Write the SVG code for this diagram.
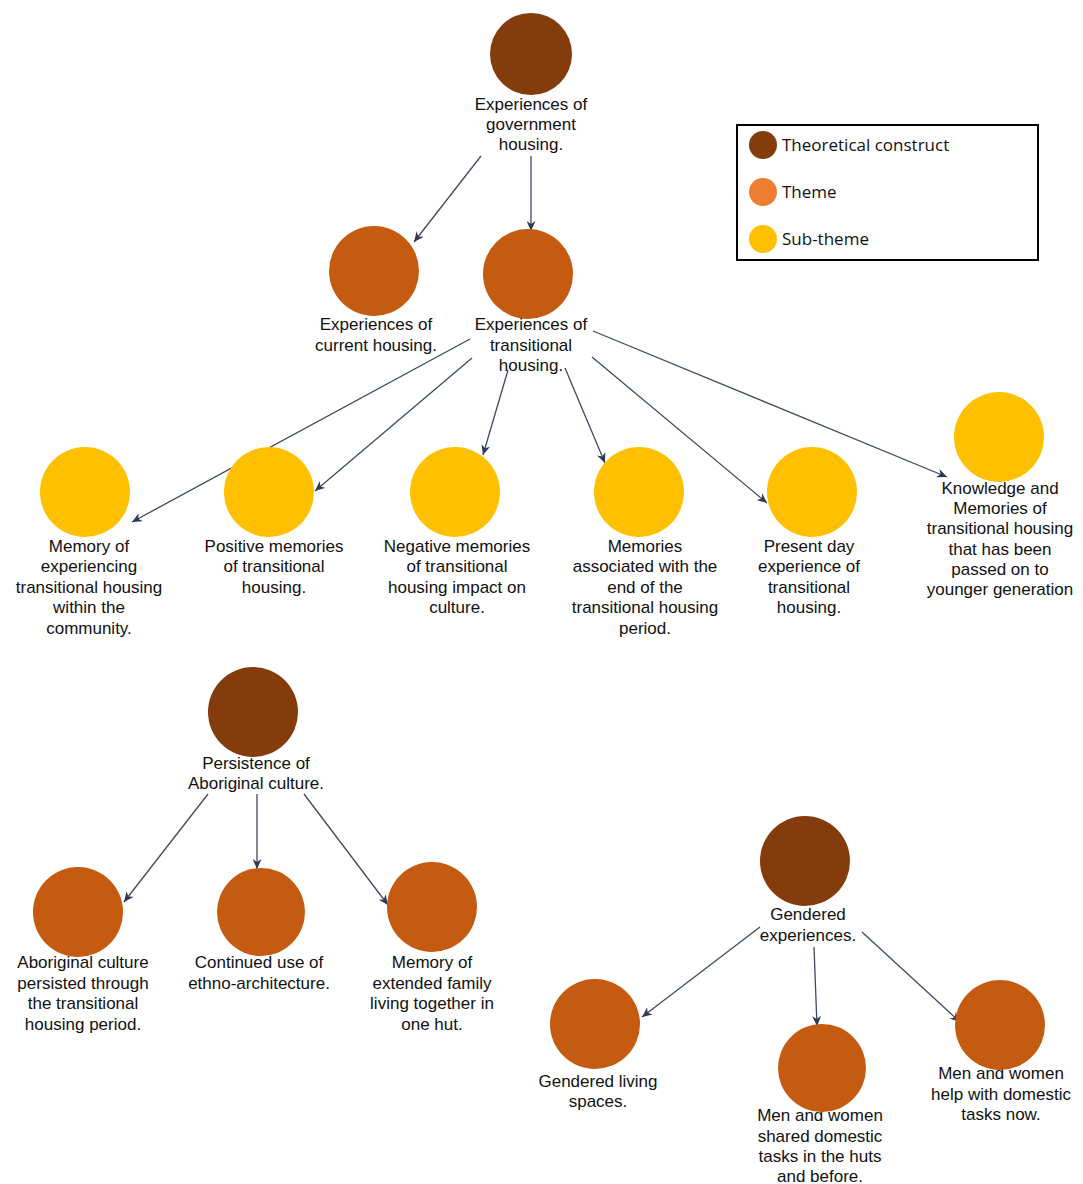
<svg xmlns="http://www.w3.org/2000/svg" width="1083" height="1184" viewBox="0 0 1083 1184">
<style>
  .lbl { font-family: "Liberation Sans", Arial, sans-serif; font-size: 17px; fill: #111; text-anchor: middle; }
  .leg { font-family: "Open Sans", "Noto Sans", sans-serif; font-size: 17px; fill: #111; }
  .tc { fill: #843C0C; }
  .th { fill: #C55A11; }
  .st { fill: #FFC000; }
  .edge { stroke: #3E4A5E; stroke-width: 1.3; fill: none; marker-end: url(#arr); }
</style>
<defs>
  <marker id="arr" markerUnits="userSpaceOnUse" markerWidth="11" markerHeight="9" refX="10" refY="4.5" orient="auto">
    <path d="M0,0 L10,4.5 L0,9 L3,4.5 z" fill="#2E3B55"/>
  </marker>
</defs>
<rect width="1083" height="1184" fill="#ffffff"/>

<g id="connectors">
  <line class="edge" x1="481" y1="156" x2="414" y2="242"/>
  <line class="edge" x1="531" y1="156" x2="531" y2="231"/>
  <line class="edge" x1="470" y1="339" x2="132" y2="522"/>
  <line class="edge" x1="472" y1="358" x2="315" y2="491"/>
  <line class="edge" x1="508" y1="370" x2="483" y2="455"/>
  <line class="edge" x1="565" y1="368" x2="605" y2="463"/>
  <line class="edge" x1="592" y1="357" x2="767" y2="503"/>
  <line class="edge" x1="593" y1="331" x2="947" y2="477"/>
  <line class="edge" x1="208" y1="794" x2="124" y2="902"/>
  <line class="edge" x1="257" y1="794" x2="257" y2="869"/>
  <line class="edge" x1="304" y1="794" x2="388" y2="905"/>
  <line class="edge" x1="760" y1="927" x2="642" y2="1017"/>
  <line class="edge" x1="814" y1="947" x2="817" y2="1026"/>
  <line class="edge" x1="862" y1="932" x2="960" y2="1022"/>
</g>

<g id="n-gov">
  <circle class="tc" cx="531" cy="54" r="41"/>
  <text class="lbl" x="531" y="110">Experiences of</text>
  <text class="lbl" x="531" y="130">government</text>
  <text class="lbl" x="531" y="150">housing.</text>
</g>

<g id="n-current">
  <circle class="th" cx="374" cy="271" r="45"/>
  <text class="lbl" x="376" y="330">Experiences of</text>
  <text class="lbl" x="376" y="351">current housing.</text>
</g>

<g id="n-transitional">
  <circle class="th" cx="528" cy="274" r="45"/>
  <text class="lbl" x="531" y="330">Experiences of</text>
  <text class="lbl" x="531" y="351">transitional</text>
  <text class="lbl" x="531" y="371">housing.</text>
</g>

<g id="n-s1">
  <text class="lbl" x="89" y="552">Memory of</text>
  <text class="lbl" x="89" y="572">experiencing</text>
  <text class="lbl" x="89" y="593">transitional housing</text>
  <text class="lbl" x="89" y="613">within the</text>
  <text class="lbl" x="89" y="634">community.</text>
  <circle class="st" cx="85" cy="492" r="45"/>
</g>

<g id="n-s2">
  <text class="lbl" x="274" y="552">Positive memories</text>
  <text class="lbl" x="274" y="572">of transitional</text>
  <text class="lbl" x="274" y="593">housing.</text>
  <circle class="st" cx="269" cy="492" r="45"/>
</g>

<g id="n-s3">
  <text class="lbl" x="457" y="552">Negative memories</text>
  <text class="lbl" x="457" y="572">of transitional</text>
  <text class="lbl" x="457" y="593">housing impact on</text>
  <text class="lbl" x="457" y="613">culture.</text>
  <circle class="st" cx="455" cy="492" r="45"/>
</g>

<g id="n-s4">
  <text class="lbl" x="645" y="552">Memories</text>
  <text class="lbl" x="645" y="572">associated with the</text>
  <text class="lbl" x="645" y="593">end of the</text>
  <text class="lbl" x="645" y="613">transitional housing</text>
  <text class="lbl" x="645" y="634">period.</text>
  <circle class="st" cx="639" cy="492" r="45"/>
</g>

<g id="n-s5">
  <text class="lbl" x="809" y="552">Present day</text>
  <text class="lbl" x="809" y="572">experience of</text>
  <text class="lbl" x="809" y="593">transitional</text>
  <text class="lbl" x="809" y="613">housing.</text>
  <circle class="st" cx="812" cy="492" r="45"/>
</g>

<g id="n-s6">
  <circle class="st" cx="999" cy="437" r="45"/>
  <text class="lbl" x="1000" y="494">Knowledge and</text>
  <text class="lbl" x="1000" y="514">Memories of</text>
  <text class="lbl" x="1000" y="534">transitional housing</text>
  <text class="lbl" x="1000" y="555">that has been</text>
  <text class="lbl" x="1000" y="575">passed on to</text>
  <text class="lbl" x="1000" y="595">younger generation</text>
</g>

<g id="n-persistence">
  <circle class="tc" cx="253" cy="712" r="45"/>
  <text class="lbl" x="256" y="769">Persistence of</text>
  <text class="lbl" x="256" y="789">Aboriginal culture.</text>
</g>

<g id="n-p1">
  <text class="lbl" x="83" y="968">Aboriginal culture</text>
  <text class="lbl" x="83" y="989">persisted through</text>
  <text class="lbl" x="83" y="1009">the transitional</text>
  <text class="lbl" x="83" y="1030">housing period.</text>
  <circle class="th" cx="78" cy="912" r="45"/>
</g>

<g id="n-p2">
  <text class="lbl" x="259" y="968">Continued use of</text>
  <text class="lbl" x="259" y="989">ethno-architecture.</text>
  <circle class="th" cx="261" cy="912" r="44"/>
</g>

<g id="n-p3">
  <text class="lbl" x="432" y="968">Memory of</text>
  <text class="lbl" x="432" y="989">extended family</text>
  <text class="lbl" x="432" y="1009">living together in</text>
  <text class="lbl" x="432" y="1030">one hut.</text>
  <circle class="th" cx="432" cy="907" r="45"/>
</g>

<g id="n-gendered">
  <circle class="tc" cx="805" cy="861" r="45"/>
  <text class="lbl" x="808" y="920">Gendered</text>
  <text class="lbl" x="808" y="941">experiences.</text>
</g>

<g id="n-g1">
  <text class="lbl" x="598" y="1087">Gendered living</text>
  <text class="lbl" x="598" y="1107">spaces.</text>
  <circle class="th" cx="595" cy="1024" r="45"/>
</g>

<g id="n-g2">
  <text class="lbl" x="820" y="1121">Men and women</text>
  <text class="lbl" x="820" y="1142">shared domestic</text>
  <text class="lbl" x="820" y="1162">tasks in the huts</text>
  <text class="lbl" x="820" y="1182">and before.</text>
  <circle class="th" cx="822" cy="1068" r="44"/>
</g>

<g id="n-g3">
  <text class="lbl" x="1001" y="1079">Men and women</text>
  <text class="lbl" x="1001" y="1100">help with domestic</text>
  <text class="lbl" x="1001" y="1120">tasks now.</text>
  <circle class="th" cx="1000" cy="1025" r="45"/>
</g>

<g id="legend">
  <rect x="737" y="125" width="301" height="135" fill="#ffffff" stroke="#000" stroke-width="2"/>
  <circle cx="763" cy="145" r="14" fill="#843C0C"/>
  <text class="leg" x="782" y="151">Theoretical construct</text>
  <circle cx="763" cy="192" r="14" fill="#ED7D31"/>
  <text class="leg" x="782" y="198">Theme</text>
  <circle cx="763" cy="239" r="14" fill="#FFC000"/>
  <text class="leg" x="782" y="245">Sub-theme</text>
</g>
</svg>
